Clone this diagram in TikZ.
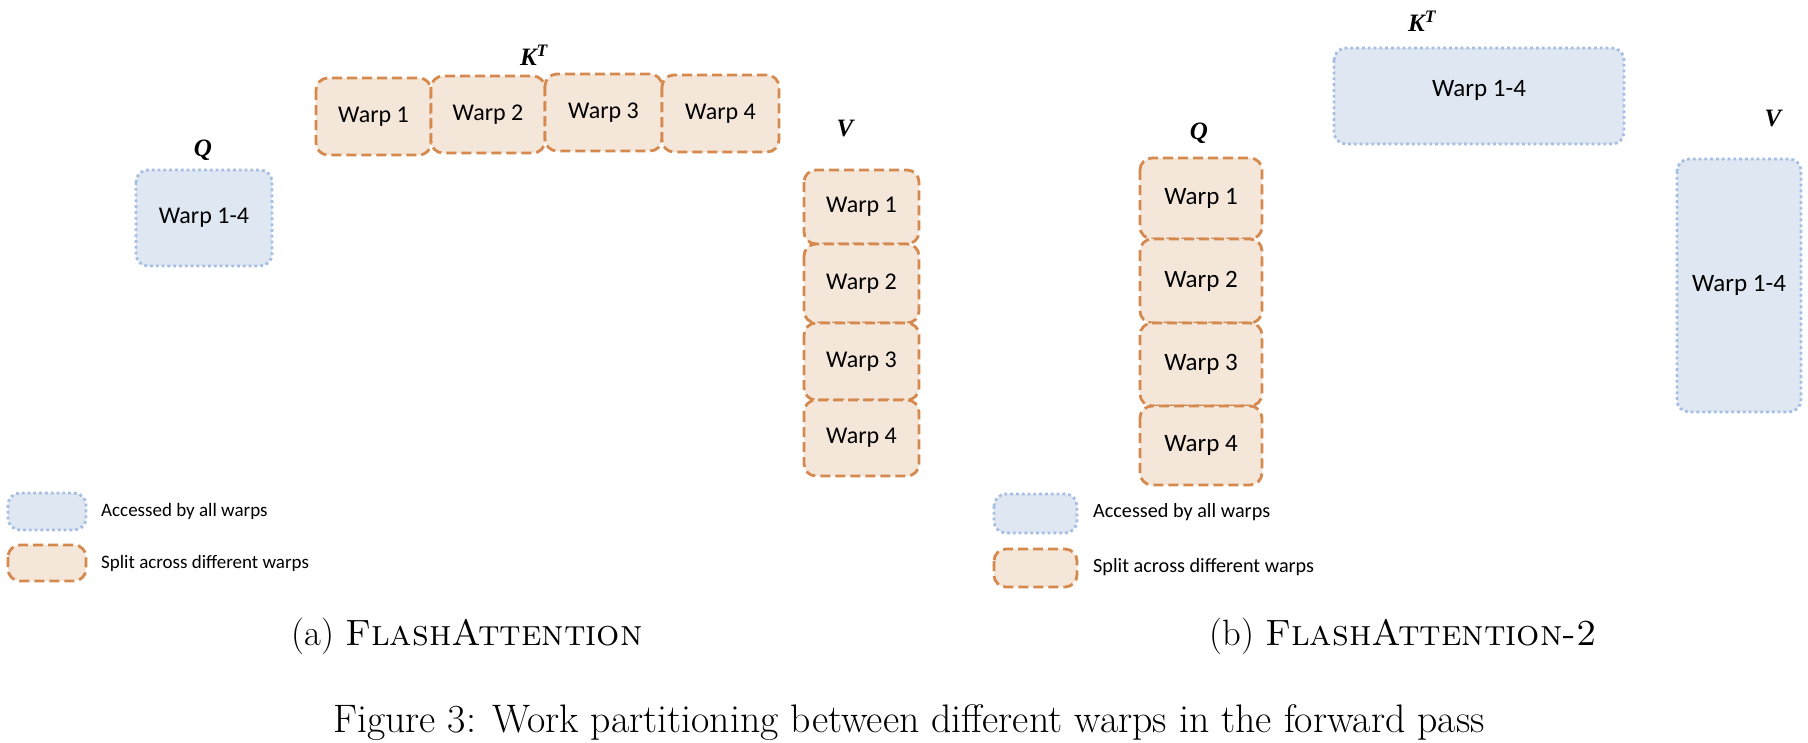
\documentclass[tikz,border=0pt]{standalone}
\usepackage{fontspec}
\newfontfamily\boxfont{Carlito}
\newfontfamily\lblfont{Liberation Serif}
\definecolor{orFill}{HTML}{F4E6D8}
\definecolor{orEdge}{HTML}{D5894E}
\definecolor{blFill}{HTML}{DFE7F2}
\definecolor{blEdge}{HTML}{A6BEE3}
\begin{document}
\begin{tikzpicture}[x=1pt,y=-1pt,
  splitbox/.style={draw=orEdge, fill=orFill, line width=2.8pt, dash pattern=on 10pt off 5pt, rounded corners=12pt},
  sharedbox/.style={draw=blEdge, fill=blFill, line width=2.8pt, dash pattern=on 2.8pt off 3pt, rounded corners=12pt},
  wtext/.style={font=\boxfont\fontsize{24}{28}\selectfont},
  wtextb/.style={font=\boxfont\fontsize{25}{29}\selectfont},
  legtext/.style={font=\boxfont\fontsize{19}{23}\selectfont, anchor=west, inner sep=0pt},
  legtextb/.style={font=\boxfont\fontsize{20.2}{24}\selectfont, anchor=west, inner sep=0pt},
  mlabel/.style={font=\lblfont\bfseries\itshape\fontsize{25}{30}\selectfont, inner sep=0pt},
  captext/.style={font=\fontsize{39.8}{48}\selectfont, anchor=base, inner sep=0pt},
  subcaptext/.style={font=\fontsize{36.6}{44}\selectfont, anchor=base, inner sep=0pt}]
\useasboundingbox (0,0) rectangle (1808,742);

% ---------------- (a) FlashAttention ----------------
\node[mlabel] (aQl) at (203,150) {Q};
\draw[sharedbox] (136,170) rectangle (272,266);
\node[wtext] (aQ) at (204,218) {Warp 1-4};

\node[mlabel] (aKl) at (534,55) {K\textsuperscript{T}};
\draw[splitbox] (316,78) rectangle (431,155);
\draw[splitbox] (431,76) rectangle (545,153);
\draw[splitbox] (545,74) rectangle (662,151);
\draw[splitbox] (662,75) rectangle (779,152);
\node[wtext] (aK1) at (373.5,116.5) {Warp 1};
\node[wtext] (aK2) at (488,114.5) {Warp 2};
\node[wtext] (aK3) at (603.5,112.5) {Warp 3};
\node[wtext] (aK4) at (720.5,113.5) {Warp 4};

\node[mlabel] (aVl) at (845,129) {V};
\draw[splitbox] (804,170) rectangle (919,244);
\draw[splitbox] (804,244) rectangle (919,323);
\draw[splitbox] (804,323) rectangle (919,400);
\draw[splitbox] (804,400) rectangle (919,476);
\node[wtext] (aV1) at (861.5,207) {Warp 1};
\node[wtext] (aV2) at (861.5,283.5) {Warp 2};
\node[wtext] (aV3) at (861.5,361.5) {Warp 3};
\node[wtext] (aV4) at (861.5,438) {Warp 4};

\draw[sharedbox] (8,493) rectangle (86,530);
\node[legtext] (aLeg1) at (101,511) {Accessed by all warps};
\draw[splitbox] (8,545) rectangle (86,581);
\node[legtext] (aLeg2) at (101,563) {Split across different warps};

% ---------------- (b) FlashAttention-2 ----------------
\node[mlabel] (bQl) at (1199,133) {Q};
\draw[splitbox] (1140,158) rectangle (1262,239);
\draw[splitbox] (1140,239) rectangle (1262,323);
\draw[splitbox] (1140,323) rectangle (1262,406);
\draw[splitbox] (1140,406) rectangle (1262,485);
\node[wtextb] (bQ1) at (1201,198.5) {Warp 1};
\node[wtextb] (bQ2) at (1201,281) {Warp 2};
\node[wtextb] (bQ3) at (1201,364.5) {Warp 3};
\node[wtextb] (bQ4) at (1201,445.5) {Warp 4};

\node[mlabel] (bKl) at (1422,21) {K\textsuperscript{T}};
\draw[sharedbox] (1334,48) rectangle (1624,144);
\node[wtextb] (bK) at (1479,90) {Warp 1-4};

\node[mlabel] (bVl) at (1773,119) {V};
\draw[sharedbox] (1677,159) rectangle (1801,412);
\node[wtextb] (bV) at (1739,285) {Warp 1-4};

\draw[sharedbox] (994,494) rectangle (1077,533);
\node[legtextb] (bLeg1) at (1093,512) {Accessed by all warps};
\draw[splitbox] (994,549) rectangle (1077,587);
\node[legtextb] (bLeg2) at (1093,567) {Split across different warps};

% ---------------- captions ----------------
\node[subcaptext] (capa) at (467,645) {(a) \textsc{FlashAttention}};
\node[subcaptext] (capb) at (1403,645) {(b) \textsc{FlashAttention-2}};
\node[captext] (capf) at (909,732) {Figure 3: Work partitioning between different warps in the forward pass};
\end{tikzpicture}
\end{document}
